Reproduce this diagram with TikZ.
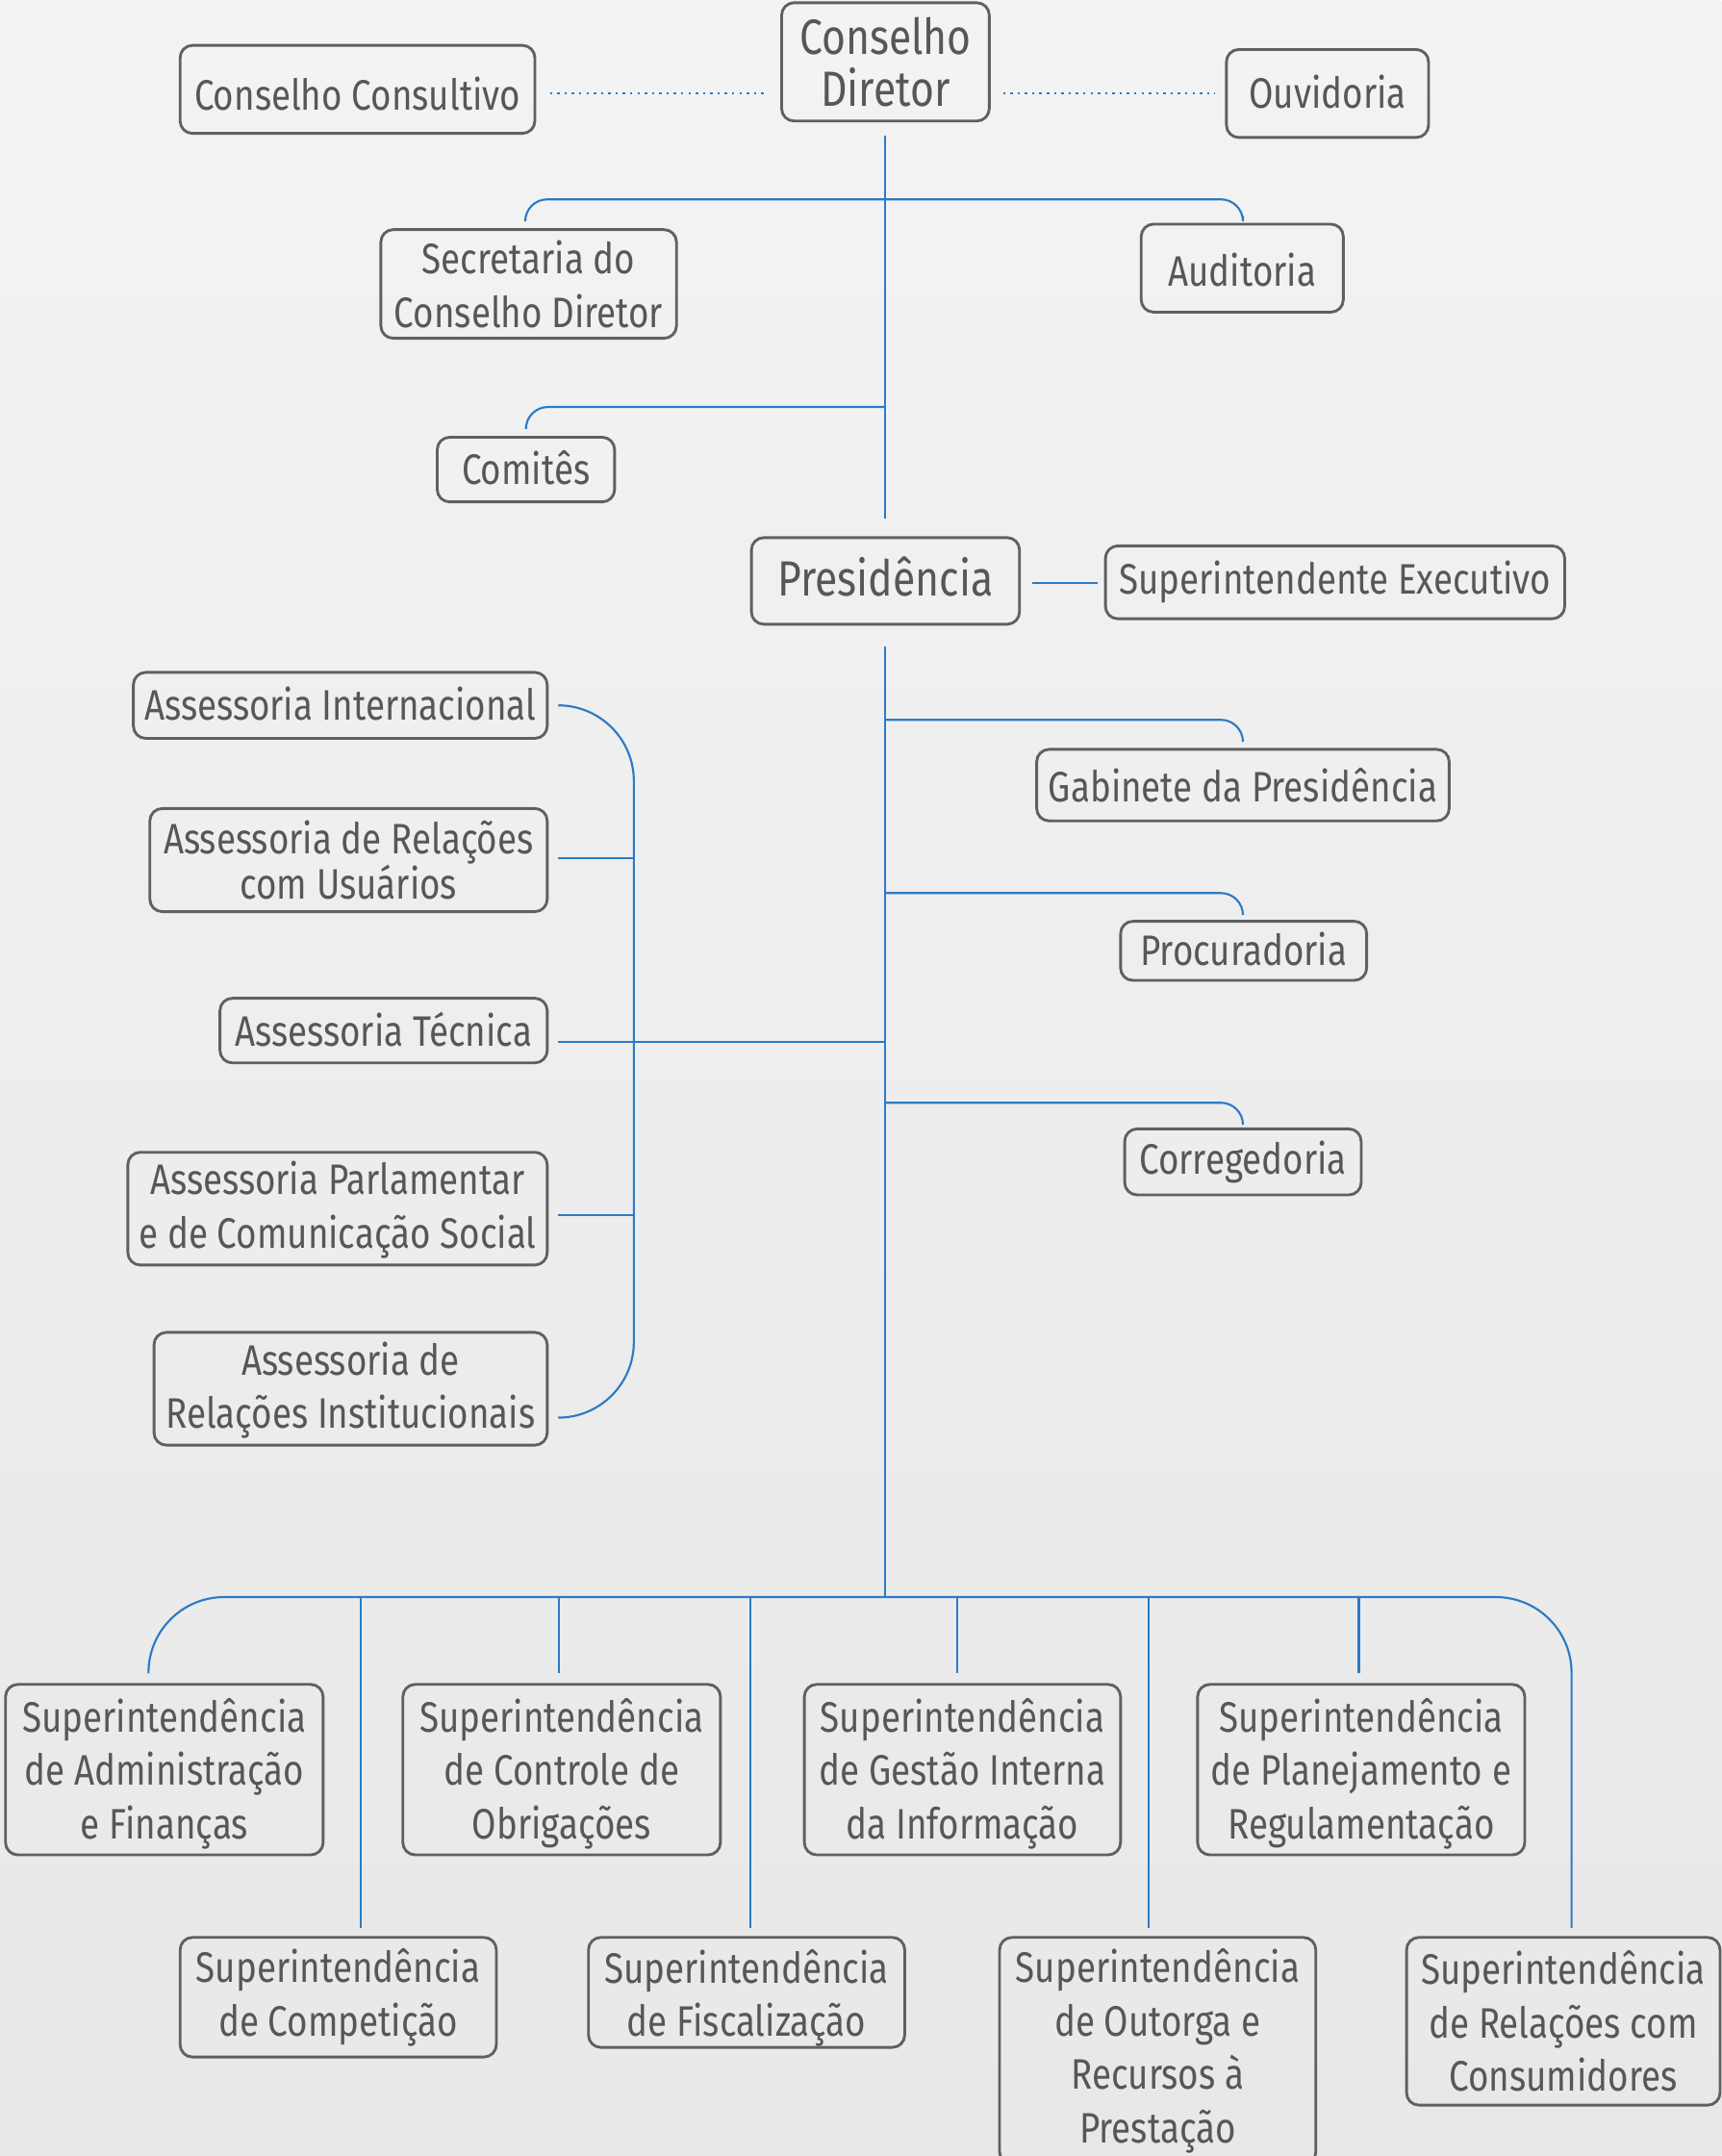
\documentclass[tikz,border=0pt]{standalone}
\usepackage{fontspec}
\setmainfont[FakeStretch=0.83]{Fira Sans}
\usetikzlibrary{calc}
\definecolor{bgtop}{HTML}{F3F3F3}
\definecolor{bgbot}{HTML}{E8E8E8}
\definecolor{boxc}{HTML}{606060}
\definecolor{txtc}{HTML}{575757}
\definecolor{linkc}{HTML}{2C7BC6}
% \orgbox[text shift]{text style}{name}{x}{y}{width}{height}{text}
\newcommand{\orgbox}[8][0]{%
  \node[frame, minimum width=#6pt, minimum height=#7pt] (#3) at (#4,#5) {};
  \node[lbl, #2] (#3-t) at ($(#3.center)+(0,#1)$) {#8};}
\begin{document}
\begin{tikzpicture}[x=1pt,y=-1pt,
  frame/.style={draw=boxc, line width=2pt, rounded corners=9pt, inner sep=0pt},
  lbl/.style={text=txtc, align=center, inner sep=0pt, font=\fontsize{31}{39}\selectfont},
  big/.style={font=\fontsize{36}{38}\selectfont},
  tight/.style={font=\fontsize{31}{31}\selectfont},
  link/.style={draw=linkc, line width=1.5pt},
  dotlink/.style={draw=linkc, line width=1.7pt, dash pattern=on 1.7pt off 3.6pt},
]
\useasboundingbox (0,0) rectangle (1252,1568);
\shade[top color=bgtop,bottom color=bgbot] (0,0) rectangle (1252,1568);
\begin{scope}
\clip (0,0) rectangle (1252,1568);
% boxes
\orgbox{big}{cd}{644}{45}{151}{86}{Conselho\\Diretor}
\orgbox[3]{}{cc}{260}{65}{258}{64}{Conselho Consultivo}
\orgbox[-1]{}{ouv}{965.5}{68}{147}{64}{Ouvidoria}
\orgbox{}{sec}{384.5}{206.5}{215}{79}{Secretaria do\\Conselho Diretor}
\orgbox[1]{}{aud}{903.5}{195}{147}{64}{Auditoria}
\orgbox[-1]{}{com}{382.5}{341.5}{129}{47}{Comitês}
\orgbox[-3]{big}{pres}{644}{422.5}{195}{63}{Presidência}
\orgbox{}{supex}{971}{423.5}{334}{53}{Superintendente Executivo}
\orgbox{}{gab}{904}{571}{300}{52}{Gabinete da Presidência}
\orgbox[-1]{}{proc}{904.5}{691.5}{179}{43}{Procuradoria}
\orgbox{}{corr}{904}{845}{172}{48}{Corregedoria}
\orgbox[-1]{}{ai}{247.5}{513}{301}{48}{Assessoria Internacional}
\orgbox{tight}{aru}{253.5}{625.5}{289}{75}{Assessoria de Relações\\com Usuários}
\orgbox[-1]{}{at}{279}{749.5}{238}{47}{Assessoria Técnica}
\orgbox[1]{}{apc}{245.5}{879}{305}{82}{Assessoria Parlamentar\\e de Comunicação Social}
\orgbox[1]{}{ari}{255}{1010}{286}{82}{Assessoria de\\Relações Institucionais}
\orgbox[3]{}{s1}{119.5}{1287}{231}{124}{Superintendência\\de Administração\\e Finanças}
\orgbox[3]{}{s2}{408.5}{1287}{231}{124}{Superintendência\\de Controle de\\Obrigações}
\orgbox[3]{}{s3}{700}{1287}{230}{124}{Superintendência\\de Gestão Interna\\da Informação}
\orgbox[3]{}{s4}{990}{1287}{238}{124}{Superintendência\\de Planejamento e\\Regulamentação}
\orgbox{}{s5}{246}{1452.5}{230}{87}{Superintendência\\de Competição}
\orgbox[4]{}{s6}{543}{1449}{230}{80}{Superintendência\\de Fiscalização}
\orgbox{}{s7}{842}{1491.5}{230}{165}{Superintendência\\de Outorga e\\Recursos à\\Prestação}
\orgbox{}{s8}{1137}{1470}{228}{122}{Superintendência\\de Relações com\\Consumidores}
% junctions
\coordinate (t1) at (644,145);
\coordinate (t2) at (644,296);
\coordinate (t3) at (644,523.5);
\coordinate (t4) at (644,649.5);
\coordinate (t5) at (644,802);
\coordinate (t6) at (644,757.5);
\coordinate (bus) at (644,1161.5);
\coordinate (bt) at (461,513);
\coordinate (bb) at (461,1031);
\coordinate (b1) at (461,624);
\coordinate (b2) at (461,883.7);
\coordinate (d2) at (406.6,1161.5);
\coordinate (d3) at (696,1161.5);
\coordinate (d4) at (988.3,1161.5);
\coordinate (d5) at (262.3,1161.5);
\coordinate (d6) at (545.6,1161.5);
\coordinate (d7) at (835.5,1161.5);
% dotted links
\draw[dotlink] ($(cc.east)+(10,3)$) -- ($(cd.west |- cc.east)+(-11,3)$);
\draw[dotlink] ($(cd.east |- ouv.west)+(9,0)$) -- ($(ouv.west)+(-7,0)$);
% trunk and branches
\draw[link] ($(cd.south)+(0,10)$) -- ($(pres.north)+(0,-13)$);
\draw[link, rounded corners=16pt] ($(sec.north)+(-2.5,-7)$) |- (t1) -| ($(aud.north)+(0.5,-5)$);
\draw[link, rounded corners=16pt] (t2) -| ($(com.north)+(0,-7)$);
\draw[link] ($(pres.east)+(8,1.5)$) -- ($(supex.west |- pres.east)+(-5,1.5)$);
\draw[link] ($(pres.south)+(0,15)$) -- (bus);
\draw[link, rounded corners=16pt] (t3) -| ($(gab.north)+(0,-6)$);
\draw[link, rounded corners=16pt] (t4) -| ($(proc.north)+(-0.5,-5)$);
\draw[link, rounded corners=16pt] (t5) -| ($(corr.north)+(0,-3)$);
% left assessorias
\draw[link] (t6) -- ($(at.east |- t6)+(7,0)$);
\draw[link, rounded corners=55pt] ($(ai.east)+(7,0)$) -- (bt) -- (bb) -- ($(ari.east |- bb)+(7,0)$);
\draw[link] (b1) -- ($(aru.east |- b1)+(7,0)$);
\draw[link] (b2) -- ($(apc.east |- b2)+(7,0)$);
% bottom bus
\draw[link, rounded corners=55pt] ($(s1.north)+(-11.5,-7)$) |- (bus) -| ($(s8.north)+(6,-6)$);
\draw[link] (d2) -- ($(d2 |- s2.north)+(0,-7)$);
\draw[link] (d3) -- ($(d3 |- s3.north)+(0,-7)$);
\draw[link] (d4) -- ($(d4 |- s4.north)+(0,-7)$);
\draw[link] (d5) -- ($(d5 |- s5.north)+(0,-6)$);
\draw[link] (d6) -- ($(d6 |- s6.north)+(0,-6)$);
\draw[link] (d7) -- ($(d7 |- s7.north)+(0,-6)$);
\end{scope}
\end{tikzpicture}
\end{document}
